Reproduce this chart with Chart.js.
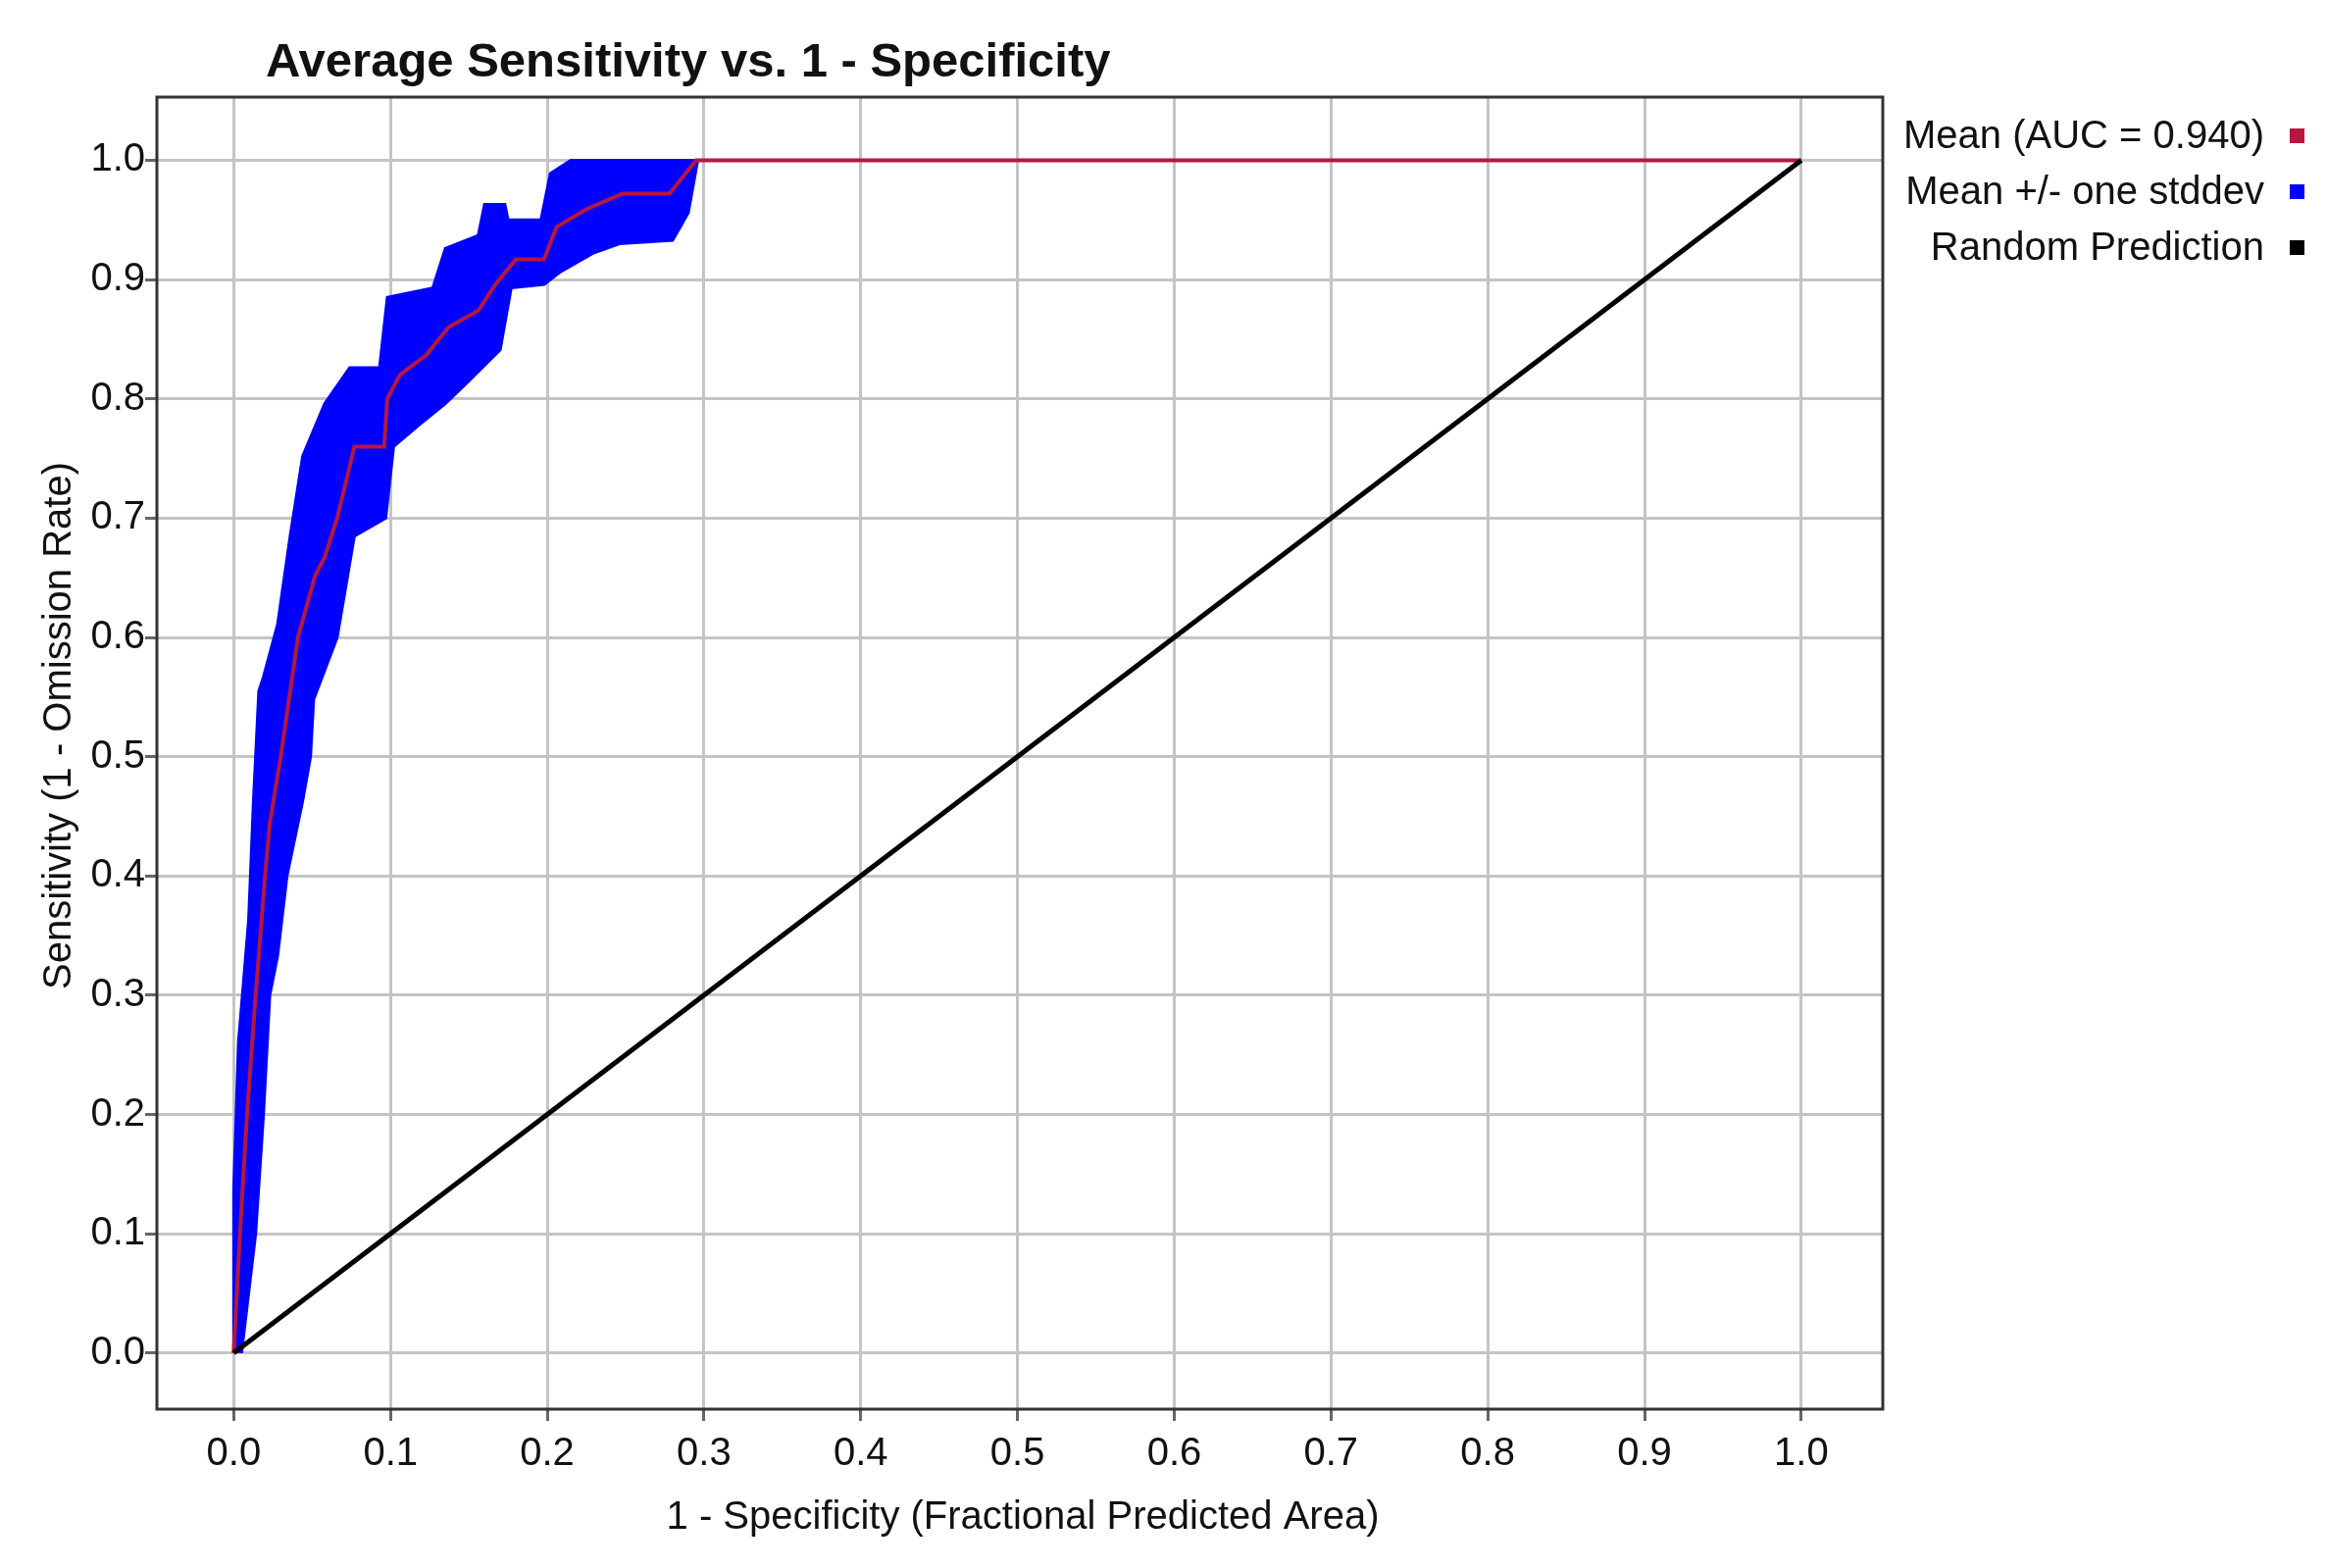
<!DOCTYPE html>
<html>
<head>
<meta charset="utf-8">
<script src="https://cdn.jsdelivr.net/npm/chart.js@4/dist/chart.umd.min.js"></script>
<style>
  html, body { margin: 0; padding: 0; background: #fff; }
  #wrap { width: 2373px; height: 1599px; }
</style>
</head>
<body>
<div id="wrap"><canvas id="roc"></canvas></div>
<script>
// values
var meanX = [0.0, 0.004, 0.0085, 0.014, 0.020, 0.023, 0.030, 0.041, 0.052, 0.058, 0.066, 0.077, 0.096, 0.098, 0.106, 0.123, 0.137, 0.156, 0.167, 0.180, 0.198, 0.206, 0.225, 0.248, 0.278, 0.295, 1.0];
var meanY = [0.0, 0.1, 0.2, 0.3, 0.4, 0.444, 0.5, 0.6, 0.652, 0.667, 0.7, 0.76, 0.76, 0.8, 0.82, 0.837, 0.86, 0.874, 0.896, 0.917, 0.917, 0.944, 0.959, 0.972, 0.972, 1.0, 1.0];

var upperX = [0.0, 0.0, 0.003, 0.0095, 0.0126, 0.016, 0.019, 0.028, 0.036, 0.044, 0.058, 0.074, 0.093, 0.098, 0.127, 0.135, 0.156, 0.160, 0.173, 0.175, 0.196, 0.202, 0.215, 0.295];
var upperY = [0.0, 0.137, 0.26, 0.363, 0.463, 0.555, 0.567, 0.611, 0.685, 0.752, 0.796, 0.826, 0.826, 0.885, 0.893, 0.926, 0.937, 0.963, 0.963, 0.95, 0.95, 0.989, 1.0, 1.0];

var lowerX = [0.005, 0.014, 0.019, 0.023, 0.028, 0.034, 0.044, 0.049, 0.051, 0.066, 0.077, 0.097, 0.102, 0.118, 0.135, 0.150, 0.170, 0.177, 0.198, 0.209, 0.229, 0.246, 0.280, 0.290, 0.296];
var lowerY = [0.0, 0.1, 0.2, 0.3, 0.333, 0.4, 0.463, 0.5, 0.548, 0.6, 0.685, 0.7, 0.76, 0.778, 0.796, 0.815, 0.841, 0.893, 0.896, 0.907, 0.922, 0.93, 0.933, 0.956, 1.0];

var randomX = [0.0, 1.0];
var randomY = [0.0, 1.0];

var legendLabels = ['Mean (AUC = 0.940)', 'Mean +/- one stddev', 'Random Prediction'];
var legendColors = ['#b5173f', '#0000ff', '#000000'];
var tickValues = [0.0, 0.1, 0.2, 0.3, 0.4, 0.5, 0.6, 0.7, 0.8, 0.9, 1.0];

function toPoints(xs, ys) {
    return xs.map(function (x, i) { return { x: x, y: ys[i] }; });
}

// closed band: upper edge forward, lower edge back
var bandPoints = toPoints(upperX, upperY).concat(toPoints(lowerX, lowerY).reverse());

var FONT = '"Liberation Sans", Arial, sans-serif';

var textPlugin = {
    id: 'texts',
    afterDraw: function (chart) {
        var ctx = chart.ctx;
        var area = chart.chartArea;
        ctx.save();
        ctx.fillStyle = '#111';
        ctx.font = 'bold 49px ' + FONT;
        ctx.textAlign = 'left';
        ctx.textBaseline = 'middle';
        ctx.fillText('Average Sensitivity vs. 1 - Specificity', 271, 64);

        ctx.font = '40px ' + FONT;
        ctx.textAlign = 'center';
        ctx.fillText('1 - Specificity (Fractional Predicted Area)', 1043, 1548);
        ctx.save();
        ctx.translate(61, 740);
        ctx.rotate(-Math.PI / 2);
        ctx.fillText('Sensitivity (1 - Omission Rate)', 0, 0);
        ctx.restore();

        ctx.textAlign = 'right';
        legendLabels.forEach(function (label, i) {
            var y = 140 + i * 57;
            ctx.fillStyle = '#111';
            ctx.fillText(label, 2309, y);
            ctx.fillStyle = legendColors[i];
            ctx.fillRect(2335, y - 9, 15, 15);
        });
        ctx.strokeStyle = '#333';
        ctx.lineWidth = 3;
        ctx.strokeRect(area.left, area.top, area.right - area.left, area.bottom - area.top);
        ctx.restore();
    }
};

new Chart(document.getElementById('roc'), {
    type: 'scatter',
    data: {
        datasets: [
            {
                label: legendLabels[1],
                data: bandPoints,
                showLine: true,
                fill: 'shape',
                backgroundColor: '#0000ff',
                borderColor: '#0000ff',
                borderWidth: 3,
                pointRadius: 0,
                order: 3
            },
            {
                label: legendLabels[0],
                data: toPoints(meanX, meanY),
                showLine: true,
                borderColor: '#b5173f',
                borderWidth: 4,
                pointRadius: 0,
                order: 2
            },
            {
                label: legendLabels[2],
                data: toPoints(randomX, randomY),
                showLine: true,
                borderColor: '#000000',
                borderWidth: 5,
                pointRadius: 0,
                order: 1
            }
        ]
    },
    options: {
        responsive: true,
        maintainAspectRatio: false,
        animation: false,
        layout: { padding: { top: 99, right: 453, left: 0, bottom: 0 } },
        plugins: { legend: { display: false }, tooltip: { enabled: false } },
        scales: {
            x: {
                type: 'linear',
                min: -0.049,
                max: 1.052,
                afterFit: function (s) { s.height = 162; },
                afterBuildTicks: function (s) { s.ticks = tickValues.map(function (v) { return { value: v }; }); },
                ticks: {
                    color: '#111',
                    font: { family: FONT, size: 40 },
                    padding: 10,
                    maxRotation: 0,
                    callback: function (v) { return v.toFixed(1); }
                },
                grid: { color: '#c4c4c4', lineWidth: 3, tickLength: 12, tickColor: '#666' },
                border: { display: false }
            },
            y: {
                type: 'linear',
                min: -0.047,
                max: 1.053,
                afterFit: function (s) { s.width = 160; },
                afterBuildTicks: function (s) { s.ticks = tickValues.map(function (v) { return { value: v }; }); },
                ticks: {
                    color: '#111',
                    font: { family: FONT, size: 40 },
                    padding: 0,
                    callback: function (v) { return v.toFixed(1); }
                },
                grid: { color: '#c4c4c4', lineWidth: 3, tickLength: 12, tickColor: '#666' },
                border: { display: false }
            }
        }
    },
    plugins: [textPlugin]
});
</script>
</body>
</html>
